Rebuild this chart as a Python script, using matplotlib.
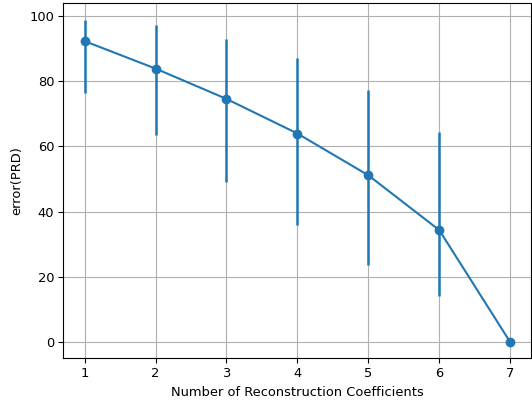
import matplotlib
matplotlib.use("Agg")
import matplotlib.pyplot as plt
import numpy as np

coeffs = [1, 2, 3, 4, 5, 6, 7]
prd = [92.2, 83.8, 74.5, 63.9, 51.1, 34.3, 0.0]
upper = [98.8, 97.1, 93.0, 87.0, 77.2, 64.4, 0.0]
lower = [76.2, 63.4, 48.9, 35.8, 23.6, 14.1, 0.0]

plt.rcParams['font.size'] = 9.4
plt.rcParams['xtick.major.size'] = 3.3
plt.rcParams['ytick.major.size'] = 3.3
plt.rcParams['xtick.major.pad'] = 3.3
plt.rcParams['ytick.major.pad'] = 3.3

prd_a = np.array(prd)
yerr = [prd_a - np.array(lower), np.array(upper) - prd_a]

fig = plt.figure(figsize=(5.32, 4.04), dpi=100)
ax = fig.add_axes([0.119, 0.1134, 0.880, 0.878])
ax.errorbar(coeffs, prd, yerr=yerr, fmt='-o', color='#1f77b4', lw=1.5, ms=6, elinewidth=1.8)
ax.grid(True, color='#b0b0b0', lw=0.8)
ax.set_axisbelow(True)
ax.set_xlabel("Number of Reconstruction Coefficients")
ax.set_ylabel("error(PRD)")
ax.set_xticks(coeffs)
fig.savefig("out.png", dpi=100)
